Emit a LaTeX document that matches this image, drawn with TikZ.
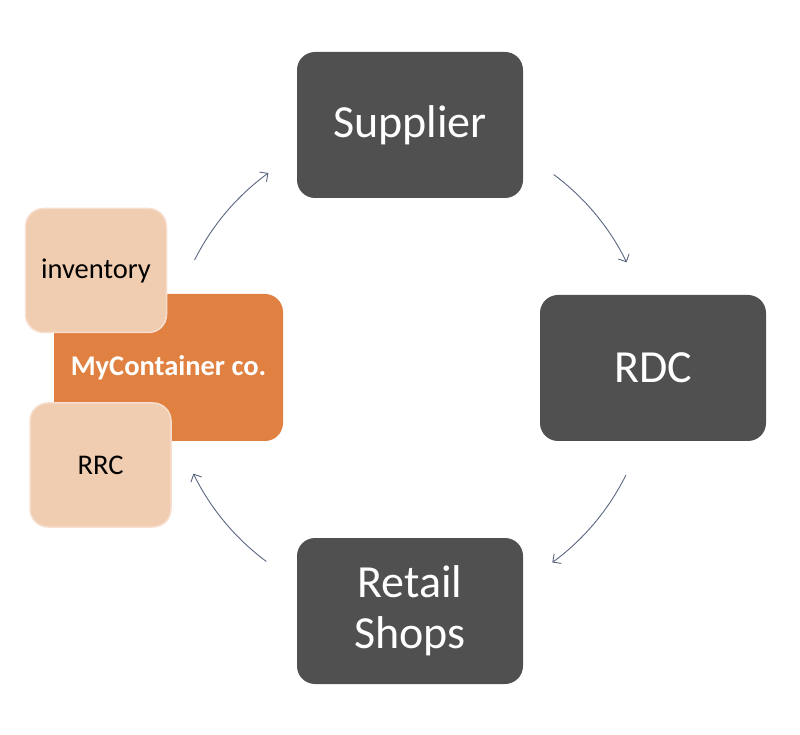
\documentclass[tikz,border=0pt]{standalone}
\usepackage{fontspec}
\setmainfont{Carlito}
\usetikzlibrary{arrows.meta}
\definecolor{darkgrey}{HTML}{505050}
\definecolor{mcorange}{HTML}{E08142}
\definecolor{peach}{HTML}{F0CCB0}
\definecolor{peachline}{HTML}{F7DFCF}
\definecolor{flowblue}{HTML}{5A6680}
\begin{document}
\begin{tikzpicture}
		[x=1pt,y=1pt,%
		  every node/.style={shape=rectangle,inner sep=0pt,rounded corners=18pt},
		  darkbox/.style={fill=darkgrey,text=white,minimum width=226pt,minimum height=146pt,
		    align=center,font=\fontsize{46}{51}\selectfont},
		  orangebox/.style={fill=mcorange,text=white,minimum width=229pt,minimum height=147pt,
		    font=\fontsize{28.5}{32}\selectfont\bfseries},
		  peachbox/.style={fill=peach,draw=peachline,line width=1.5pt,minimum width=141pt,
		    minimum height=124pt,font=\fontsize{28.5}{32}\selectfont},
		  flow/.style={-{Straight Barb[length=6pt,width=12pt]},draw=flowblue,line width=0.9pt}]
		\useasboundingbox (0,0) rectangle (800,734);
		% cycle
		\node[darkbox] (supplier) at (410,609) {Supplier};
		\node[darkbox] (rdc) at (653,366) {RDC};
		\node[darkbox] (shops) at (410,123) {Retail\\Shops};
		% company
		\node[orangebox] (company) at (168.5,366.5) {MyContainer co.};
		\node[peachbox] (inventory) at (96,463.5) {inventory};
		\node[peachbox] (rrc) at (100.5,269) {RRC};
		% arrows round the hub
		\coordinate (hub) at (410,366);
		\foreach \a in {153.4,53.4,-26.4,-126.6}
		  \draw[flow] (hub) ++(\a:241pt) arc[start angle=\a,delta angle=-27.4,radius=241pt];
	\end{tikzpicture}
\end{document}
